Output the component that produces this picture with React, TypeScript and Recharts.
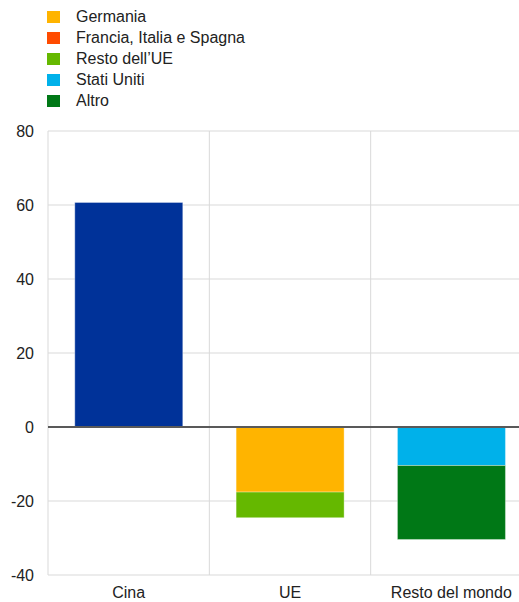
import * as React from "react";
import {
  BarChart,
  Bar,
  XAxis,
  YAxis,
  CartesianGrid,
  ReferenceLine,
} from "recharts";

const categories = ["Cina", "UE", "Resto del mondo"];
const cina = [60.7, 0, 0];
const germania = [0, -17.6, 0];
const franciaItaliaSpagna = [0, 0, 0];
const restoUE = [0, -6.9, 0];
const statiUniti = [0, 0, -10.4];
const altro = [0, 0, -20.0];
const yTicks = [-40, -20, 0, 20, 40, 60, 80];

const series = [
  { key: "cina", name: "Cina", values: cina, color: "#003299", legend: false },
  { key: "germania", name: "Germania", values: germania, color: "#FFB400", legend: true },
  { key: "fis", name: "Francia, Italia e Spagna", values: franciaItaliaSpagna, color: "#FF4B00", legend: true },
  { key: "restoUE", name: "Resto dell\u2019UE", values: restoUE, color: "#65B800", legend: true },
  { key: "statiUniti", name: "Stati Uniti", values: statiUniti, color: "#00B1EA", legend: true },
  { key: "altro", name: "Altro", values: altro, color: "#007816", legend: true },
];

const font = '"Liberation Sans", Arial, sans-serif';

export default function App() {
  const data = categories.map((c, i) => {
    const row: any = { name: c };
    series.forEach((s) => {
      row[s.key] = s.values[i];
    });
    return row;
  });

  return (
    <div
      style={{
        position: "absolute",
        left: 0,
        top: 0,
        width: 519,
        height: 602,
        overflow: "hidden",
        fontFamily: font,
        background: "#fff",
      }}
    >
      <div style={{ position: "absolute", left: 47, top: 6 }}>
        {series
          .filter((s) => s.legend)
          .map((s) => (
            <div
              key={s.key}
              style={{
                display: "flex",
                alignItems: "center",
                height: 21,
                fontSize: 16,
                color: "#222",
              }}
            >
              <span
                style={{
                  display: "inline-block",
                  width: 13,
                  height: 12,
                  background: s.color,
                  marginRight: 16,
                }}
              />
              {s.name}
            </div>
          ))}
      </div>
      <BarChart
        width={532}
        height={602}
        data={data}
        stackOffset="sign"
        barCategoryGap="16.6%"
        margin={{ top: 131, right: 0, left: 0, bottom: 0 }}
      >
        <CartesianGrid
          stroke="#d9d9d9"
          strokeWidth={1}
          verticalCoordinatesGenerator={(props: any) =>
            [0, 1, 2, 3].map((i) => props.offset.left + (i * props.offset.width) / 3)
          }
        />
        <XAxis
          dataKey="name"
          axisLine={false}
          tickLine={false}
          tickSize={6}
          tickMargin={6}
          height={27}
          interval={0}
          tick={{ fill: "#222", fontSize: 16, fontFamily: font }}
        />
        <YAxis
          domain={[-40, 80]}
          ticks={yTicks}
          axisLine={false}
          tickLine={false}
          tickSize={6}
          tickMargin={8}
          width={48}
          tick={{ fill: "#222", fontSize: 16, fontFamily: font }}
        />
        {series.map((s) => (
          <Bar
            key={s.key}
            dataKey={s.key}
            name={s.name}
            stackId="a"
            fill={s.color}
            stroke="#ffffff"
            strokeOpacity={0.35}
            strokeWidth={1}
            isAnimationActive={false}
          />
        ))}
        <ReferenceLine y={0} stroke="#595959" strokeWidth={2} />
      </BarChart>
    </div>
  );
}
